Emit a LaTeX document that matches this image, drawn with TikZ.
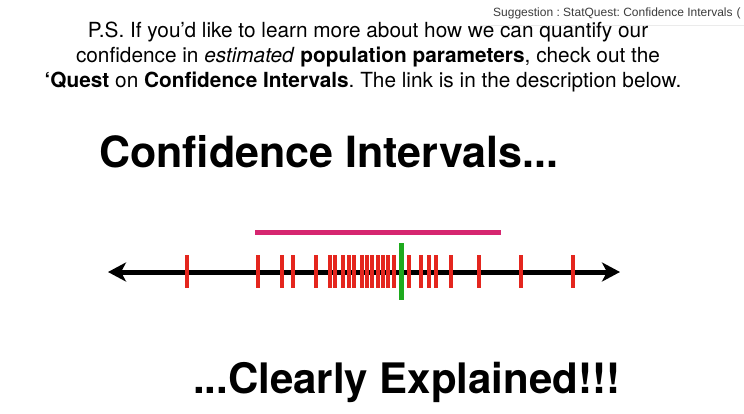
\documentclass[tikz,border=0pt]{standalone}
\usepackage{fontspec}
\setmainfont{TeX Gyre Heros}
\newfontfamily\cardfont{Liberation Sans}
\usepackage{xcolor}
\usetikzlibrary{arrows.meta,positioning}
\definecolor{sqred}{RGB}{228,38,30}
\definecolor{sqgreen}{RGB}{30,170,30}
\definecolor{sqpink}{RGB}{214,38,112}
\definecolor{sqgrey}{RGB}{60,60,60}
\frenchspacing

\begin{document}
\begin{tikzpicture}[x=1pt,y=-1pt,
  note/.style={font=\fontsize{20.8}{24}\selectfont,anchor=base,inner sep=0pt},
  headline/.style={font=\fontsize{43}{50}\selectfont\bfseries,anchor=base west,inner sep=0pt},
  card/.style={font=\cardfont\fontsize{12}{14}\selectfont,text=sqgrey,anchor=base west,inner sep=0pt},
  axis/.style={line width=5pt,{Stealth[length=18pt,width=19pt,inset=5pt]}-{Stealth[length=18pt,width=19pt,inset=5pt]}},
  tickmark/.style={draw=sqred,line width=3.2pt},
  meanmark/.style={draw=sqgreen,line width=5pt},
  interval/.style={draw=sqpink,line width=5pt}]

\path[use as bounding box] (0,0) rectangle (744,413);
% suggestion card
\node[card] (sugg) at (493,16) {Suggestion : StatQuest: Confidence Intervals\hspace{4pt}(};
\draw[black!8,line width=.6pt] (480,25)--(744,25);
% notice
\node[note] (ps1) at (368,37) {P.S. If you’d like to learn more about how we can quantify our};
\node[note] (ps2) at (368,62) {confidence in \textit{estimated} \textbf{population parameters}, check out the};
\node[note] (ps3) at (363,87) {\textbf{‘Quest} on \textbf{Confidence Intervals}. The link is in the description below.};
% title
\node[headline] (title) at (99,167) {Confidence Intervals...};
\node[headline,font=\fontsize{42}{50}\selectfont\bfseries] (subtitle) at (193,393) {...Clearly Explained!!!};
% number line
\coordinate (axisL) at (108,272);
\coordinate (axisR) at (620,272);
\draw[axis] (axisL)--(axisR);
\foreach \xx in {187,258,282,293,316,330,335,343,349,354,362,367,372,378,383,388,394,409,421,429,436,451,479,521,573}
  \draw[tickmark] (\xx,255)--(\xx,288);
\draw[meanmark] (401,243)--(401,300);
\draw[interval] (255,232)--(501,232);

\end{tikzpicture}
\end{document}
